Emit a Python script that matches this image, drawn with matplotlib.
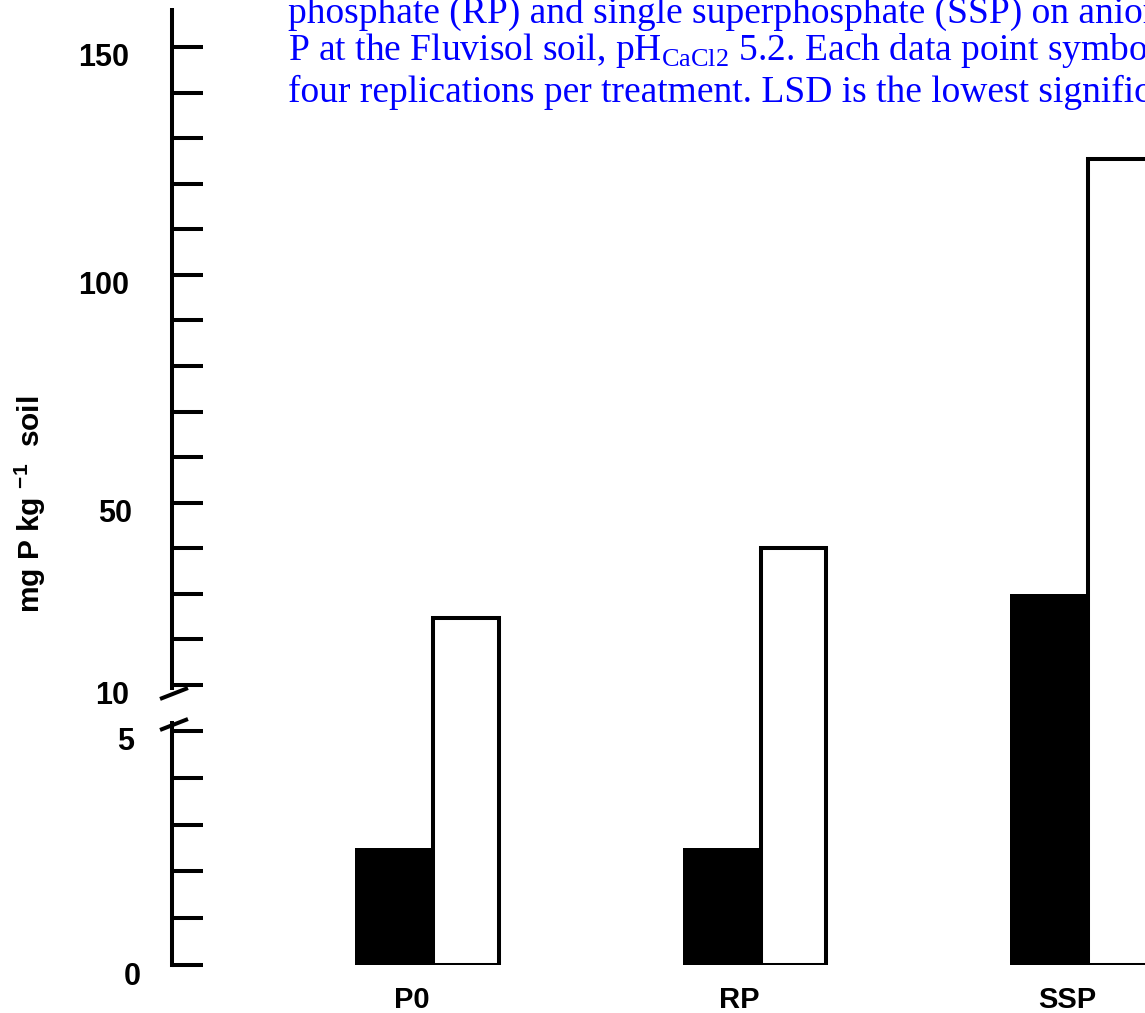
import numpy as np
import matplotlib
matplotlib.use("Agg")
import matplotlib.pyplot as plt
import matplotlib.transforms as mtransforms

plt.rcParams["font.family"] = ["Liberation Sans", "DejaVu Sans"]

# ---- data ----
treatments = ["P0", "RP", "SSP"]
black_vals = [2.5, 2.5, 30.0]
white_vals = [24.7, 40.0, 125.5]
ytick_vals = [0, 1, 2, 3, 4, 5, 10, 20, 30, 40, 50, 60, 70, 80, 90, 100,
              110, 120, 130, 140, 150]
ytick_shown = {0: "0", 5: "5", 10: "10", 50: "50", 100: "100", 150: "150"}

caption_lines = [
    "phosphate (RP) and single superphosphate (SSP) on anion",
    r"P at the Fluvisol soil, pH$_{\mathregular{CaCl2}}$ 5.2. Each data point symbol",
    "four replications per treatment. LSD is the lowest signific",
]


# broken y axis: 0-5 stretched, 5-10 squeezed into the gap, 10+ compressed
def fwd(v):
    v = np.asarray(v, dtype=float)
    return np.where(v <= 5, v * 46.8,
                    np.where(v <= 10, 234 + (v - 5) * 9.2,
                             280 + (v - 10) * 4.557))


def inv(p):
    p = np.asarray(p, dtype=float)
    return np.where(p <= 234, p / 46.8,
                    np.where(p <= 280, 5 + (p - 234) / 9.2,
                             10 + (p - 280) / 4.557))


W, H = 1145, 1013
fig = plt.figure(figsize=(W / 100, H / 100), dpi=100)
ax = fig.add_axes([172 / W, (H - 965) / H, 1 - 172 / W, 965 / H])
ax.set_yscale("function", functions=(fwd, inv))
ax.set_ylim(0, 160.3)
ax.set_xlim(-0.791, 2.180)

x = np.arange(len(treatments))
ax.bar(x - 0.232, black_vals, width=0.232, align="edge",
       color="black", edgecolor="black", linewidth=0)
ax.bar(x + 0.006, white_vals, width=0.2, align="edge",
       color="white", edgecolor="black", linewidth=2.9)

for s in ax.spines.values():
    s.set_visible(False)

# axis line in two pieces with break marks
ytr = ax.get_yaxis_transform()
lw = 2.9
ax.plot([0, 0], [0, 5.87], color="black", lw=lw, transform=ytr, clip_on=False,
        solid_capstyle="projecting")
ax.plot([0, 0], [9.46, 158.6], color="black", lw=lw, transform=ytr, clip_on=False,
        solid_capstyle="butt")
ax.plot([-0.0123, 0.0164], [8.48, 9.67], color="black", lw=lw, transform=ytr,
        clip_on=False, solid_capstyle="butt")
ax.plot([-0.0123, 0.0164], [5.11, 6.30], color="black", lw=lw, transform=ytr,
        clip_on=False, solid_capstyle="butt")

ax.set_yticks(ytick_vals)
ax.set_yticklabels([ytick_shown.get(v, "") for v in ytick_vals])
ax.tick_params(axis="y", direction="in", length=22.3, width=2.9, pad=31,
               labelsize=22)
# small per-label nudges (px) as in the original
nudge = {"0": 12, "5": 5, "50": 3}
for lab in ax.get_yticklabels():
    lab.set_fontweight("bold")
    dx = nudge.get(lab.get_text(), 0) / 100
    lab.set_transform(lab.get_transform() +
                      mtransforms.ScaledTranslation(dx, -0.08, fig.dpi_scale_trans))

ax.set_xticks(x)
ax.set_xticklabels(treatments, fontsize=21, fontweight="bold")
ax.tick_params(axis="x", length=0, pad=15)
for lab in ax.get_xticklabels():
    lab.set_transform(lab.get_transform() +
                      mtransforms.ScaledTranslation(-0.19, 0, fig.dpi_scale_trans))

fig.text(30 / W, 1 - 504 / H, r"mg P kg $^{\mathregular{-1}}$  soil", rotation=90,
         ha="center", va="center", fontsize=21.5, fontweight="bold")

baselines = [23, 60, 102]
for line, yb in zip(caption_lines, baselines):
    fig.text(288 / W, 1 - yb / H, line, color="#0000FF", fontsize=27,
             family="Liberation Serif", ha="left", va="baseline")

fig.savefig("out.png", dpi=100)
